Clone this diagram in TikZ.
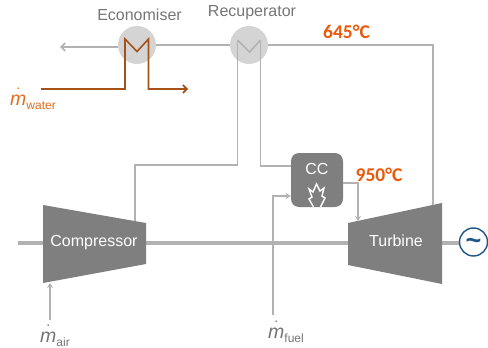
\documentclass[tikz,border=0pt]{standalone}
\usepackage{fontspec}
\setmainfont{Liberation Sans}
\newfontfamily\tempfont{Carlito}
\usetikzlibrary{arrows.meta}
\definecolor{ln}{HTML}{B2B2B2}
\definecolor{bodyc}{HTML}{7F7F7F}
\definecolor{hx}{HTML}{D4D4D4}
\definecolor{txt}{HTML}{757575}
\definecolor{brn}{HTML}{A5521A}
\definecolor{org}{HTML}{E36C1E}
\definecolor{hot}{HTML}{EB5A0C}
\definecolor{gen}{HTML}{1F5488}
\newcommand{\massflow}[1]{{\fontsize{19.5}{19}\selectfont\rlap{\hspace{.32em}\raisebox{.8em}{\fontsize{14}{14}\selectfont .}}\textit{m}}\raisebox{-.42em}{\fontsize{12}{12}\selectfont #1}}
\tikzset{
 pipe/.style={draw=ln,line width=1.6pt},
 arr/.style={pipe,-{Stealth[length=5pt,width=6pt]}},
 barb/.style={-{Straight Barb[length=4pt,width=8pt]}},
 water/.style={draw=brn,line width=1.6pt},
 hxc/.style={circle,fill=hx,minimum size=38pt,inner sep=0pt},
 lab/.style={font=\fontsize{16}{16}\selectfont,text=txt,inner sep=0pt},
 wlab/.style={font=\fontsize{16}{16}\selectfont,text=white,inner sep=0pt},
 temp/.style={font=\tempfont\bfseries\fontsize{19.5}{20}\selectfont,text=hot,inner sep=0pt},
 mach/.style={fill=bodyc,draw=none},
}
\begin{document}
\begin{tikzpicture}[x=1pt,y=-1pt]
\useasboundingbox (0,0) rectangle (488,348);
% shaft
\draw[draw=ln,line width=3.4pt] (18,243) -- (460,243);
% heat exchanger discs
\node[hxc] (eco) at (137,45) {};
\node[hxc] (rec) at (249,45) {};
% machines
\path[mach] (43,205) -- (146,223) -- (146,264) -- (43,283) -- cycle;
\path[mach] (348,223) -- (442,203) -- (442,284) -- (348,265) -- cycle;
\coordinate (compTop) at (135,221);
\coordinate (turbTop) at (433,205);
\coordinate (turbIn) at (358,221);
\coordinate (compIn) at (50,283);
\node[wlab] (comp) at (94,243) {Compressor};
\node[wlab] (turb) at (396,241) {Turbine};
% CC
\node[fill=bodyc,rounded corners=8pt,minimum width=52pt,minimum height=54pt,inner sep=0pt] (cc) at (317,180) {};
\node[wlab] (cclab) at (317,169) {CC};
\begin{scope}
\clip (291,180) rectangle (343,207);
\draw[white,line width=1.4pt,line join=miter] (313.5,207) -- (309,199) -- (312,197) -- (309,189) -- (313,192) -- (316.5,184) -- (320,191) -- (324,188) -- (322,196) -- (325,198) -- (320.5,207);
\end{scope}
% gas path
\coordinate (out) at (60,47);
\draw[pipe,barb] (eco.west |- 0,47) -- (out);
\draw[pipe] (eco.east) -- (rec.west);
\draw[pipe] (rec.east) -- (433,45) -- (turbTop);
\draw[pipe] (237.5,40) -- (237.5,165) -- (135,165) -- (compTop);
\draw[pipe] (260.5,40) -- (260.5,166) -- (cc.west |- 0,166);
\draw[pipe] (237.5,40) -- (249.5,52) -- (260.5,40);
\draw[arr] (cc.east |- 0,183) -- (358,183) -- (turbIn);
\coordinate (fuelS) at (273,315);
\draw[arr] (fuelS) -- (273,196) -- (cc.west |- 0,196);
\coordinate (airS) at (50,320);
\draw[arr] (airS) -- (compIn);
% water
\coordinate (wS) at (41,89);
\coordinate (wE) at (188,89);
\draw[water,barb] (wS) -- (125,89) -- (125,39) -- (137,51.5) -- (148.5,39) -- (148.5,89) -- (wE);
% generator
\node[circle,draw=gen,fill=white,line width=1.4pt,minimum size=28pt,inner sep=0pt] (g) at (473.5,242) {};
\node[inner sep=0pt,text=gen,font=\bfseries\fontsize{27}{27}\selectfont] (gt) at (473.5,243.5) {\textasciitilde};
% labels
\node[lab] (ecol) at (139.5,15) {Economiser};
\node[lab] (recl) at (252,13) {Recuperator};
\node[temp] (t1) at (346.5,32) {645°C};
\node[temp] (t2) at (379,175) {950°C};
\node[text=org,inner sep=0pt,anchor=base west] (mw) at (10,105) {\massflow{water}};
\node[text=txt,inner sep=0pt,anchor=base west] (ma) at (40,342) {\massflow{air}};
\node[text=txt,inner sep=0pt,anchor=base west] (mf) at (268,338) {\massflow{fuel}};
\end{tikzpicture}
\end{document}
